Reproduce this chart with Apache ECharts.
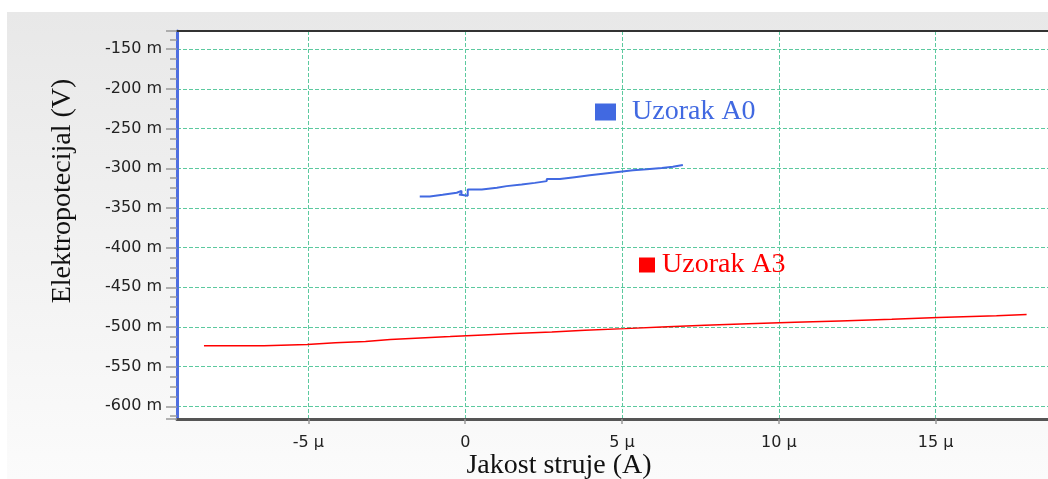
<!DOCTYPE html>
<html><head><meta charset="utf-8">
<script src="https://cdn.jsdelivr.net/npm/echarts@6/dist/echarts.min.js"></script>
<style>html,body{margin:0;padding:0;background:#fff;}#c{width:1048px;height:479px;}</style>
</head><body><div id="c"></div>
<script>
// Data (current in µA, potential in mV)
const seriesNames = ['Uzorak A0', 'Uzorak A3'];
const a0Current = [-1.45,-1.13,-0.72,-0.27,-0.12,-0.2,0.08,0.53,1.01,1.32,1.80,2.22,2.60,3.02,3.49,3.97,4.39,4.87,5.35,5.79,6.27,6.62,6.94];
const a0Potential = [-335.5,-333.4,-330.9,-328.4,-333,-334.6,-326.8,-324.6,-322.5,-320.5,-318.4,-316.2,-313.6,-311.2,-308.8,-306.8,-304.6,-302.5,-301.3,-299.6,-298,-295.9,-295.9];
const a3Current = [-8.33,-6.42,-5.04,-4.14,-3.18,-2.39,-1.43,-0.48,0.58,1.54,2.76,3.82,5.09,6.26,7.64,9.02,10.51,11.95,13.6,15.08,16.94,17.9];
const a3Potential = [-523.7,-522.1,-520,-518.3,-515.8,-513.8,-512.1,-510,-508.3,-506.3,-504.2,-502.1,-500,-497.9,-495.8,-494.1,-492.4,-490.3,-488.1,-486,-484.3,-484.3];
const xUnit = ' μ';
const yUnit = ' m';
const xTitle = 'Jakost struje (A)';
const yTitle = 'Elektropotecijal (V)';

const zip = (xs, ys) => xs.map((x, i) => [x, ys[i]]);

const chart = echarts.init(document.getElementById('c'), null, {renderer: 'canvas'});
const gridLine = () => ({show: true, lineStyle: {color: '#5cc99f', width: 1, type: [4, 2]}});
const labelFont = () => ({fontFamily: 'DejaVu Sans', fontSize: 16, color: '#222'});
const X_MIN = -9.19, X_MAX = 19.22;

chart.setOption({
  animation: false,
  graphic: {elements: [
    {type: 'rect', z: -100, silent: true, shape: {x: 7, y: 12, width: 1041, height: 467},
     style: {fill: new echarts.graphic.LinearGradient(0, 0, 0, 1, [
       {offset: 0, color: '#e8e8e8'}, {offset: 1, color: '#fbfbfb'}])}},
    {type: 'text', z: 100, x: 63, y: 191, rotation: Math.PI / 2,
     style: {text: yTitle, fontFamily: 'Liberation Serif', fontSize: 28, fill: '#111',
             textAlign: 'center', textVerticalAlign: 'middle'}},
    {type: 'text', z: 100, x: 559, y: 466,
     style: {text: xTitle, fontFamily: 'Liberation Serif', fontSize: 28, fill: '#111',
             textAlign: 'center', textVerticalAlign: 'middle'}}
  ]},
  grid: {left: 177, top: 31, width: 891, bottom: 60, show: true, containLabel: false,
         outerBoundsMode: 'none',
         backgroundColor: '#ffffff', borderColor: '#333', borderWidth: 2},
  legend: [
    {data: [seriesNames[0]], left: 590, top: 93, icon: 'rect', itemWidth: 21, itemHeight: 17,
     textStyle: {fontFamily: 'Liberation Serif', fontSize: 28, color: '#4169e1', padding: [0, 0, 0, 11]}},
    {data: [seriesNames[1]], left: 634, top: 246, icon: 'rect', itemWidth: 16, itemHeight: 15,
     textStyle: {fontFamily: 'Liberation Serif', fontSize: 28, color: '#ff0000', padding: [0, 0, 0, 2]}}
  ],
  xAxis: [{
    type: 'value', min: X_MIN, max: X_MAX, splitNumber: 6,
    axisLine: {show: true, onZero: false, lineStyle: {color: '#555', width: 3}},
    axisTick: {show: true, length: 5, lineStyle: {color: '#999', width: 1.5}},
    axisLabel: {...labelFont(), margin: 16, showMinLabel: false, showMaxLabel: false,
      formatter: v => v === 0 ? '0' : v + xUnit},
    splitLine: gridLine()
  }, {
    type: 'value', position: 'top', min: X_MIN, max: X_MAX, splitNumber: 6,
    axisLine: {show: true, onZero: false, lineStyle: {color: '#333', width: 2}},
    axisTick: {show: false}, axisLabel: {show: false}, splitLine: {show: false}
  }],
  yAxis: {
    type: 'value', min: -616, max: -127, splitNumber: 10,
    axisLine: {show: true, onZero: false, lineStyle: {color: '#4f6fe0', width: 3}},
    axisTick: {show: true, length: 11, lineStyle: {color: '#999', width: 1.5}},
    minorTick: {show: true, splitNumber: 4, length: 7, lineStyle: {color: '#999', width: 1.5}},
    axisLabel: {...labelFont(), margin: 15, showMinLabel: false, showMaxLabel: false,
      formatter: v => v + yUnit},
    splitLine: gridLine()
  },
  series: [
    {name: seriesNames[0], type: 'line', step: 'end', showSymbol: false, color: '#4169e1',
     lineStyle: {width: 2, color: '#4169e1'}, data: zip(a0Current, a0Potential)},
    {name: seriesNames[1], type: 'line', step: 'end', showSymbol: false, color: '#ff0000',
     lineStyle: {width: 1.5, color: '#ff0000'}, data: zip(a3Current, a3Potential)}
  ]
});
</script></body></html>
